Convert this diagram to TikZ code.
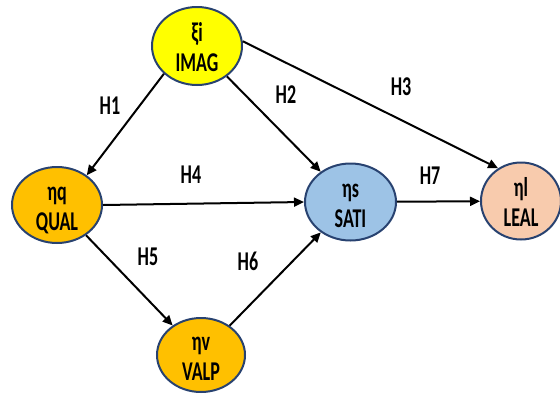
\documentclass[tikz,border=0pt]{standalone}
\usepackage{fontspec}
\setmainfont{Carlito}
\usetikzlibrary{shapes.geometric,arrows.meta}
\definecolor{bord}{RGB}{40,66,112}
\definecolor{cyel}{RGB}{255,255,0}
\definecolor{corg}{RGB}{255,192,0}
\definecolor{cblu}{RGB}{157,195,230}
\definecolor{cpch}{RGB}{248,203,173}
\newcommand\twoline[2]{\smash{\raisebox{-12pt}{\scalebox{1.03}[1.55]{\begin{tabular}{@{}c@{}}#1\\[2.5pt]#2\end{tabular}}}}}
\newcommand\hlab[1]{\scalebox{1.03}[1.55]{#1}}
\begin{document}
\begin{tikzpicture}[x=1pt,y=-1pt,
  var/.style={ellipse,draw=bord,line width=2pt,inner sep=0pt,
    font=\fontsize{17.5}{17}\bfseries\selectfont},
  hyp/.style={font=\fontsize{17.5}{17}\bfseries\selectfont,inner sep=0pt},
  arr/.style={line width=2pt,-{Triangle[length=10pt,width=9pt]}}]
\useasboundingbox (0,0) rectangle (560,394);
\node[var,fill=cyel,minimum width=90pt,minimum height=78pt] (imag) at (197,46) {\twoline{ξi}{IMAG}};
\node[var,fill=corg,minimum width=90pt,minimum height=76pt] (qual) at (57,205) {\twoline{ηq}{QUAL}};
\node[var,fill=cblu,minimum width=91pt,minimum height=77pt] (sati) at (350.5,202) {\twoline{ηs}{SATI}};
\node[var,fill=cpch,minimum width=80pt,minimum height=77pt] (leal) at (521,201) {\twoline{ηl}{LEAL}};
\node[var,fill=corg,minimum width=88pt,minimum height=74pt] (valp) at (201,355) {\twoline{ηv}{VALP}};
\draw[arr] (imag.220) -- (qual.45);
\draw[arr] (imag) -- (sati);
\draw[arr] (imag.6) -- (leal.125);
\draw[arr] (qual.east) -- (sati.west);
\draw[arr] (sati) -- (leal);
\draw[arr] (qual) -- (valp);
\draw[arr] (valp) -- (sati);
\node[hyp] (h1) at (110,106) {\hlab{H1}};
\node[hyp] (h2) at (286,95) {\hlab{H2}};
\node[hyp] (h3) at (401,87) {\hlab{H3}};
\node[hyp] (h4) at (191,175) {\hlab{H4}};
\node[hyp] (h5) at (148,257) {\hlab{H5}};
\node[hyp] (h6) at (248,261) {\hlab{H6}};
\node[hyp] (h7) at (430,176) {\hlab{H7}};
\end{tikzpicture}
\end{document}
